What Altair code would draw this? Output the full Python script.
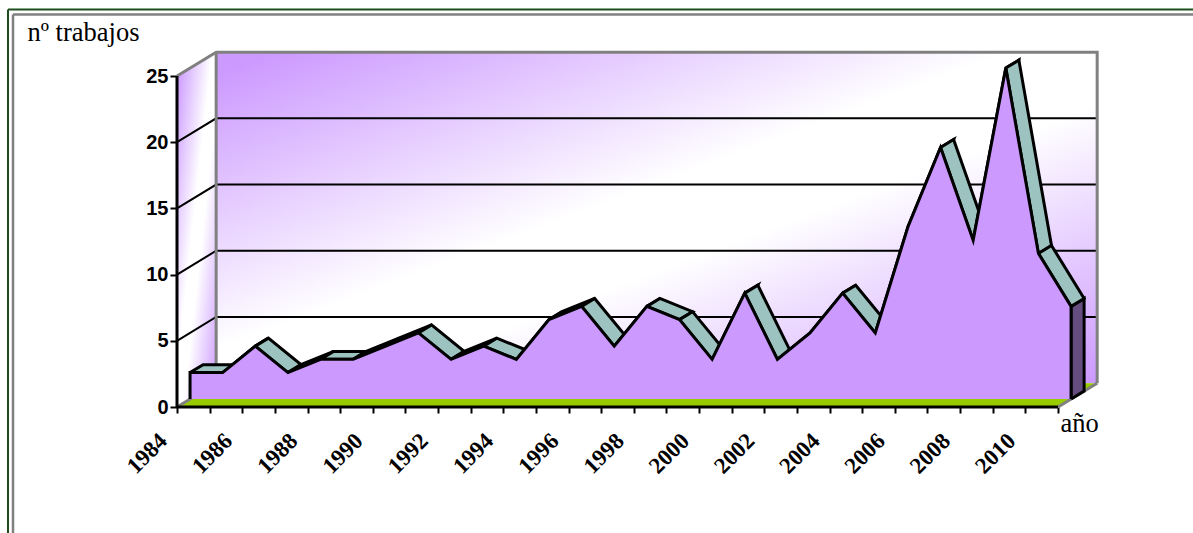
import altair as alt
import pandas as pd

years = list(range(1984, 2012))
trabajos = [2, 2, 4, 2, 3, 3, 4, 5, 3, 4, 3, 6, 7, 4, 7, 6, 3, 8, 3, 5, 8, 5, 13, 19, 12, 25, 11, 7]
y_ticks = [0, 5, 10, 15, 20, 25]
grid_levels = [5, 10, 15, 20]

# One step into the depth of the 3D box, in data units
DX, DY = 0.4, 0.6
WALL = 3

PLOT_W, PLOT_H = 923, 367
x_scale = alt.Scale(domain=[1984, 1984 + PLOT_W / 32.63], nice=False, zero=False)
y_scale = alt.Scale(domain=[0, PLOT_H / 13.24], nice=False, zero=False)

first, last = years[0], years[-1]
wx, wy = DX * WALL, DY * WALL

x_axis = alt.Axis(
    title="año",
    titleFont="Liberation Serif",
    titleFontSize=26.5,
    titleFontWeight="normal",
    titleColor="#000000",
    titleX=883,
    titleY=24,
    titleAlign="left",
    titleBaseline="alphabetic",
    values=years,
    labelExpr="datum.value % 2 == 0 ? datum.value : ''",
    labelAngle=315,
    labelAlign="right",
    labelBaseline="middle",
    labelFont="Liberation Serif",
    labelFontWeight="bold",
    labelFontSize=23,
    labelColor="#000000",
    labelPadding=24,
    labelOffset=-14,
    labelOverlap=False,
    labelFlush=False,
    labelBound=False,
    domain=False,
    grid=False,
    ticks=True,
    tickColor="#000000",
    tickWidth=2,
    tickSize=6,
)

y_axis = alt.Axis(
    title="nº trabajos",
    titleFont="Liberation Serif",
    titleFontSize=26.5,
    titleFontWeight="normal",
    titleColor="#000000",
    titleAngle=0,
    titleX=-150,
    titleY=0,
    titleAlign="left",
    titleBaseline="alphabetic",
    values=y_ticks,
    labelFont="Liberation Sans",
    labelFontWeight="bold",
    labelFontSize=20,
    labelColor="#000000",
    labelPadding=2,
    domain=False,
    grid=False,
    tickColor="#000000",
    tickWidth=2,
    tickSize=7,
)


def polygon(points, group=0):
    return pd.DataFrame(
        [{"px": p[0], "py": p[1], "grp": group, "ord": i} for i, p in enumerate(points)]
    )


def shape(df, **mark):
    mark.setdefault("strokeJoin", "miter")
    return (
        alt.Chart(df)
        .mark_line(**mark)
        .encode(
            x=alt.X("px:Q", scale=x_scale, axis=x_axis),
            y=alt.Y("py:Q", scale=y_scale, axis=y_axis),
            detail="grp:N",
            order=alt.Order("ord:Q"),
        )
    )


wall_gradient = alt.Gradient(
    gradient="linear",
    stops=[
        alt.GradientStop(color="#cc99ff", offset=0),
        alt.GradientStop(color="#cc99ff", offset=0.03),
        alt.GradientStop(color="#ffffff", offset=0.45),
        alt.GradientStop(color="#ffffff", offset=0.58),
        alt.GradientStop(color="#cc99ff", offset=1),
    ],
    x1=0, y1=0, x2=1, y2=1,
)

back_wall = shape(
    polygon([
        (first + wx, wy),
        (first + wx, 25 + wy),
        (last + wx, 25 + wy),
        (last + wx, wy),
        (first + wx, wy),
    ]),
    fill=wall_gradient,
    strokeWidth=0,
)

side_wall = shape(
    polygon([(first, 0), (first, 25), (first + wx, 25 + wy), (first + wx, wy), (first, 0)]),
    fill=wall_gradient,
    strokeWidth=0,
)

floor = shape(
    polygon([(first, 0), (first + wx, wy), (last + wx, wy), (last, 0), (first, 0)]),
    fill="#99cc00",
    strokeWidth=0,
)

# Grey outline of the box
box_edges = pd.concat([
    polygon([(first, 25), (first + wx, 25 + wy), (last + wx, 25 + wy), (last + wx, wy)], 0),
    polygon([(first + wx, 25 + wy), (first + wx, wy)], 1),
    polygon([(first, 0), (first + wx, wy)], 2),
    polygon([(last, 0), (last + wx, wy)], 3),
])
box_outline = shape(box_edges, stroke="#808080", strokeWidth=3)

# Gridlines run up the side wall, then along the back wall
grid = shape(
    pd.concat([
        polygon([(first, v), (first + wx, v + wy), (last + wx, v + wy)], v)
        for v in grid_levels
    ]),
    stroke="#000000",
    strokeWidth=2,
)

axis_lines = shape(
    pd.concat([
        polygon([(first, 0), (first, 25)], 0),
        polygon([(first, 0), (last, 0)], 1),
    ]),
    stroke="#000000",
    strokeWidth=3,
)

# Top ribbon of the 3D area, one parallelogram per segment
ribbon_parts = []
for i in range(len(years) - 1):
    x0, x1 = years[i], years[i + 1]
    v0, v1 = trabajos[i], trabajos[i + 1]
    ribbon_parts.append(polygon([
        (x0 + DX, v0 + DY),
        (x1 + DX, v1 + DY),
        (x1 + 2 * DX, v1 + 2 * DY),
        (x0 + 2 * DX, v0 + 2 * DY),
        (x0 + DX, v0 + DY),
    ], i))
ribbon = shape(pd.concat(ribbon_parts), fill="#9cc3bf", stroke="#000000", strokeWidth=3)

end_face = shape(
    polygon([
        (last + DX, DY),
        (last + DX, trabajos[-1] + DY),
        (last + 2 * DX, trabajos[-1] + 2 * DY),
        (last + 2 * DX, 2 * DY),
        (last + DX, DY),
    ]),
    fill="#664d7f",
    stroke="#000000",
    strokeWidth=3,
)

front_points = (
    [(first + DX, DY)]
    + [(x + DX, v + DY) for x, v in zip(years, trabajos)]
    + [(last + DX, DY)]
)
front = shape(polygon(front_points), fill="#cc99ff", stroke="#000000", strokeWidth=3)

# Double page frame around the figure
frame = alt.layer(
    alt.Chart().mark_rule(color="#1d4d1d", strokeWidth=2).encode(
        x=alt.value(-169), x2=alt.value(1016), y=alt.value(-30.5)
    ),
    alt.Chart().mark_rule(color="#1d4d1d", strokeWidth=2).encode(
        x=alt.value(-169), y=alt.value(-30.5), y2=alt.value(493)
    ),
    alt.Chart().mark_rule(color="#808080", strokeWidth=2.5).encode(
        x=alt.value(-164), x2=alt.value(1016), y=alt.value(-25.5)
    ),
    alt.Chart().mark_rule(color="#808080", strokeWidth=2.5).encode(
        x=alt.value(-164), y=alt.value(-25.5), y2=alt.value(493)
    ),
)

chart = (
    alt.layer(
        back_wall, side_wall, floor, grid, box_outline, end_face, ribbon, front,
        axis_lines, frame,
    )
    .properties(
        width=PLOT_W,
        height=PLOT_H,
        padding={"left": 177, "top": 40, "right": 93, "bottom": 126},
        autosize=alt.AutoSizeParams(type="none"),
        background="#ffffff",
    )
    .configure_view(stroke=None)
)

chart.save("out.html", embed_options={"renderer": "svg", "actions": False})
